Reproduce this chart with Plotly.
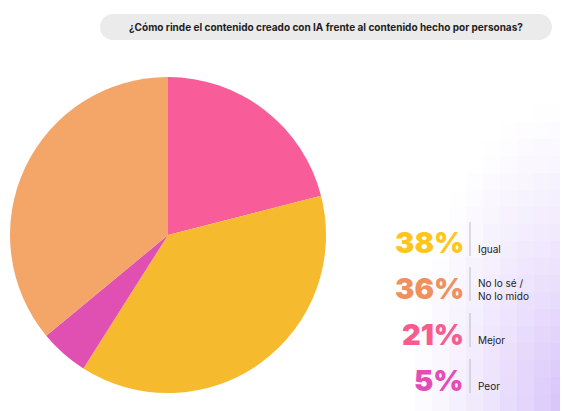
import plotly.graph_objects as go

# ---- data ----
slice_labels = ["Mejor", "Igual", "Peor", "No lo sé / No lo mido"]
slice_values = [21, 38, 5, 36]
slice_colors = ["#F85D9A", "#F5BA2E", "#E04FB2", "#F4A568"]

legend_pcts = [38, 36, 21, 5]
legend_labels = ["Igual", "No lo sé /<br>No lo mido", "Mejor", "Peor"]
legend_colors = ["#FEC51C", "#EE915E", "#F95B8F", "#E54DB6"]

title_text = "¿Cómo rinde el contenido creado con IA frente al contenido hecho por personas?"

W, H = 568, 411      # window size
OFF = 8              # page body margin
FW, FH = W - OFF, H - OFF


def px(x):
    return (x - OFF) / FW


def py(y):
    return 1 - (y - OFF) / FH


fig = go.Figure()

fig.add_trace(go.Pie(
    labels=slice_labels,
    values=slice_values,
    marker=dict(colors=slice_colors, line=dict(width=0)),
    sort=False,
    direction="clockwise",
    rotation=0,
    textinfo="none",
    hoverinfo="label+percent",
    showlegend=False,
    domain=dict(x=[px(10), px(326)], y=[py(393), py(77)]),
))

shapes = []
# purple background tiles in the lower-right corner
cell = 17
ncols = 10
nrows = 20
for i in range(ncols):
    for j in range(nrows):
        x1 = W - i * cell
        x0 = x1 - cell
        y1 = H - j * cell
        y0 = y1 - cell
        cx, cy = (x0 + x1) / 2, (y0 + y1) / 2
        d = (((W - cx) / 165) ** 2 + ((H - cy) / 320) ** 2) ** 0.5
        a = max(0.0, 1 - d) ** 1.3 * 0.56
        if a < 0.01:
            continue
        shapes.append(dict(type="rect", xref="paper", yref="paper",
                           x0=px(x0), x1=px(x1), y0=py(y1), y1=py(y0),
                           fillcolor="rgb(183,145,246)", opacity=a,
                           line=dict(width=0), layer="below"))

# rounded title box
x0, x1, y0, y1, r = 100, 552, 14, 40, 13
k = 0.5523 * r
pts = [
    f"M {px(x0 + r)},{py(y0)}",
    f"L {px(x1 - r)},{py(y0)}",
    f"C {px(x1 - r + k)},{py(y0)} {px(x1)},{py(y0 + r - k)} {px(x1)},{py(y0 + r)}",
    f"C {px(x1)},{py(y1 - r + k)} {px(x1 - r + k)},{py(y1)} {px(x1 - r)},{py(y1)}",
    f"L {px(x0 + r)},{py(y1)}",
    f"C {px(x0 + r - k)},{py(y1)} {px(x0)},{py(y1 - r + k)} {px(x0)},{py(y1 - r)}",
    f"C {px(x0)},{py(y0 + r - k)} {px(x0 + r - k)},{py(y0)} {px(x0 + r)},{py(y0)}",
    "Z",
]
shapes.append(dict(type="path", xref="paper", yref="paper", path=" ".join(pts),
                   fillcolor="#EBEBEB", line=dict(width=0), layer="below"))

annotations = [dict(
    text=f"<b>{title_text}</b>", x=px(326), y=py(27), xref="paper", yref="paper",
    xanchor="center", yanchor="middle", showarrow=False,
    font=dict(family="Inter", size=10, color="#1E1E1E"),
)]

row_top = [222, 267, 313, 359]
row_h = 34
for k_, (p, lab, col) in enumerate(zip(legend_pcts, legend_labels, legend_colors)):
    t = row_top[k_]
    shapes.append(dict(type="line", xref="paper", yref="paper",
                       x0=px(470), x1=px(470), y0=py(t), y1=py(t + row_h),
                       line=dict(color="#BDBDBD", width=1)))
    annotations.append(dict(
        text=f"{p}%", x=px(466), y=py(t + 21), xref="paper", yref="paper",
        xanchor="right", yanchor="middle", showarrow=False,
        font=dict(family="Inter", size=29, color=col, weight=900),
    ))
    ny = t + 27 if "<br>" not in lab else t + 22
    annotations.append(dict(
        text=lab, x=px(476), y=py(ny), xref="paper", yref="paper",
        xanchor="left", yanchor="middle", align="left", showarrow=False,
        font=dict(family="Inter", size=10, color="#222222"),
    ))

fig.update_layout(
    width=FW, height=FH,
    margin=dict(l=0, r=0, t=0, b=0),
    paper_bgcolor="white",
    plot_bgcolor="white",
    shapes=shapes,
    annotations=annotations,
    showlegend=False,
)

fig.write_html("out.html")
